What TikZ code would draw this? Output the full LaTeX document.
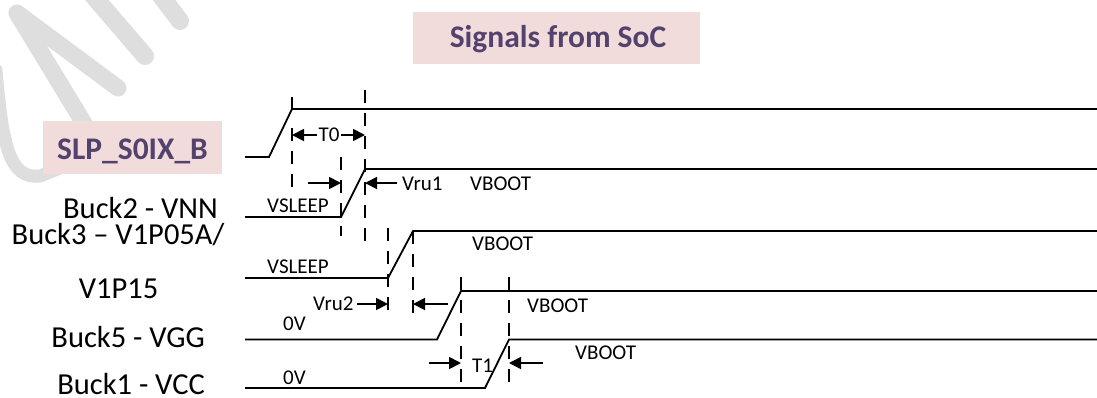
\documentclass[tikz,border=0pt]{standalone}
\usepackage{fontspec}
\setmainfont{Carlito}
\usetikzlibrary{arrows.meta}
\definecolor{boxpink}{RGB}{242,220,219}
\definecolor{boxtext}{RGB}{83,66,110}
\definecolor{wm}{RGB}{222,222,222}
\tikzset{
  sig/.style={line width=1.8pt, line join=miter},
  dsh/.style={line width=1.8pt, dash pattern=on 13pt off 10pt},
  tick/.style={line width=1.8pt},
  arr/.style={line width=1.8pt, -{Triangle[length=12pt,width=12pt]}},
  lbl/.style={inner sep=0pt, font=\fontsize{21}{25}\selectfont},
  big/.style={inner sep=0pt, font=\fontsize{30.5}{36}\selectfont},
  wmline/.style={draw=wm, line width=18pt, line cap=round, line join=round},
  pinkbox/.style={fill=boxpink, inner sep=0pt},
  boxtitle/.style={inner sep=0pt, text=boxtext, font=\bfseries\fontsize{31.5}{37}\selectfont},
}
\begin{document}
\begin{tikzpicture}[x=1pt,y=-1pt]
\useasboundingbox (0,0) rectangle (1097,397);
% watermark
\draw[wmline] (158,-8) -- (180,21);
\draw[wmline] (90,-8) -- (145,56);
\draw[wmline, line width=17pt] (118,88) -- (17,13) -- (88,130);
\draw[wmline, line width=13pt] (-4,70) .. controls (2,140) and (8,180) .. (40,176) -- (60,168);
% title boxes
\node[pinkbox, minimum width=287pt, minimum height=52pt] (titlebox) at (556.5,38) {};
\node[boxtitle, anchor=base] (title) at (558,47) {Signals from SoC};
\node[pinkbox, minimum width=179pt, minimum height=53pt] (slpbox) at (132.5,147.5) {};
\node[boxtitle, anchor=base] (slp) at (132.5,159.5) {SLP\_S0IX\_B};
% left labels
\node[big, anchor=base east] (l2) at (218,218) {Buck2 - VNN};
\node[big, anchor=base] (l3a) at (118,244) {Buck3 – V1P05A/};
\node[big, anchor=base] (l3b) at (118.5,298) {V1P15};
\node[big, anchor=base east] (l5) at (205,347) {Buck5 - VGG};
\node[big, anchor=base east] (l1) at (205,394) {Buck1 - VCC};
% signal coordinates
\coordinate (a0) at (245,157); \coordinate (a1) at (269,157); \coordinate (a2) at (292,109); \coordinate (a3) at (1097,109);
\coordinate (b0) at (245,217); \coordinate (b1) at (341,217); \coordinate (b2) at (365,169); \coordinate (b3) at (1097,169);
\coordinate (c0) at (245,278); \coordinate (c1) at (388,278); \coordinate (c2) at (413,231); \coordinate (c3) at (1097,231);
\coordinate (d0) at (245,339.5); \coordinate (d1) at (437,339.5); \coordinate (d2) at (461,291); \coordinate (d3) at (1097,291);
\coordinate (e0) at (245,388); \coordinate (e1) at (485,388); \coordinate (e2) at (509,339.5); \coordinate (e3) at (1097,339.5);
\draw[sig] (a0) -- (a1) -- (a2) -- (a3);
\draw[sig] (b0) -- (b1) -- (b2) -- (b3);
\draw[sig] (c0) -- (c1) -- (c2) -- (c3);
\draw[sig] (d0) -- (d1) -- (d2) -- (d3);
\draw[sig] (e0) -- (e1) -- (e2) -- (e3);
% vertical markers
\coordinate (v1t) at (292,97); \coordinate (v1a) at (292,128); \coordinate (v1b) at (292,192);
\coordinate (v2a) at (365,90); \coordinate (v2b) at (365,243);
\coordinate (v3a) at (341,157); \coordinate (v3b) at (341,236);
\coordinate (v4a) at (388,228); \coordinate (v4b) at (388,317);
\coordinate (v5a) at (413,231); \coordinate (v5b) at (413,317);
\coordinate (v6a) at (461,277); \coordinate (v6b) at (461,390);
\coordinate (v7a) at (509,277); \coordinate (v7b) at (509,390);
\draw[tick] (v1t) -- (a2);
\draw[dsh] (v1a) -- (v1b);
\draw[dsh] (v2a) -- (v2b);
\draw[dsh] (v3a) -- (v3b);
\draw[dsh] (v4a) -- (v4b);
\draw[dsh] (v5a) -- (v5b);
\draw[dsh] (v6a) -- (v6b);
\draw[dsh] (v7a) -- (v7b);
% T0
\node[lbl, inner sep=1.5pt] (t0) at (329,135) {T0};
\coordinate (t0l) at (292,135); \coordinate (t0r) at (365,135);
\draw[arr] (t0) -- (t0l);
\draw[arr] (t0) -- (t0r);
% Vru1
\coordinate (r1s) at (308,183); \coordinate (r1e) at (341,183);
\coordinate (r1s2) at (397,183); \coordinate (r1e2) at (365,183);
\draw[arr] (r1s) -- (r1e);
\draw[arr] (r1s2) -- (r1e2);
\node[lbl, anchor=base west] (vru1) at (402,190) {Vru1};
% Vru2
\coordinate (r2s) at (357,304); \coordinate (r2e) at (388,304);
\coordinate (r2s2) at (448,304); \coordinate (r2e2) at (413,304);
\draw[arr] (r2s) -- (r2e);
\draw[arr] (r2s2) -- (r2e2);
\node[lbl, anchor=base west] (vru2) at (313,310) {Vru2};
% T1
\coordinate (t1s) at (429,363); \coordinate (t1e) at (461,363);
\coordinate (t1s2) at (543,363); \coordinate (t1e2) at (509,363);
\draw[arr] (t1s) -- (t1e);
\draw[arr] (t1s2) -- (t1e2);
\node[lbl, anchor=base west] (t1) at (472,372) {T1};
% level labels
\node[lbl, anchor=base west] (vs2) at (267,212) {VSLEEP};
\node[lbl, anchor=base west] (vs3) at (267,273) {VSLEEP};
\node[lbl, anchor=base west] (z5) at (283,330) {0V};
\node[lbl, anchor=base west] (z1) at (283,384) {0V};
\node[lbl, anchor=base west] (vb2) at (470,190) {VBOOT};
\node[lbl, anchor=base west] (vb3) at (472,250) {VBOOT};
\node[lbl, anchor=base west] (vb5) at (527,312) {VBOOT};
\node[lbl, anchor=base west] (vb1) at (575,359) {VBOOT};
\end{tikzpicture}
\end{document}
